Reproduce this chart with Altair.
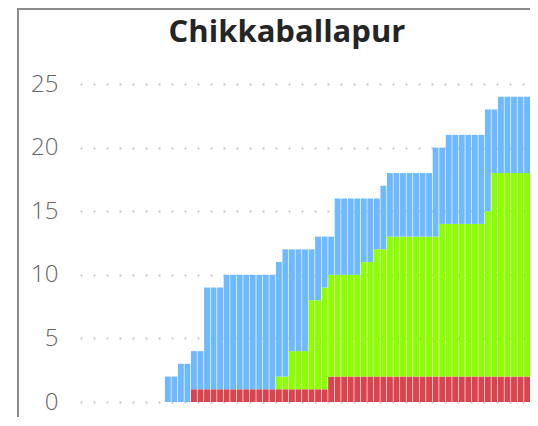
import altair as alt
import pandas as pd

# categories: one bar per day (the right-most bars of the source are cut off)
dates = [d.strftime("%Y-%m-%d") for d in pd.date_range("2020-03-09", periods=69)]

confirmed = [0] * 13 + [2, 2, 3, 3, 4, 4, 9, 9, 9] + [10] * 8 + \
    [11, 12, 12, 12, 12, 12, 13, 13, 13] + [16] * 7 + [17] + [18] * 7 + \
    [20, 20] + [21] * 6 + [23, 23] + [24] * 5
deaths = [0] * 17 + [1] * 21 + [2] * 31
recovered = [0] * 30 + [1, 1] + [3, 3, 3] + [7, 7] + [8] * 6 + [9, 9] + \
    [10, 10] + [11] * 8 + [12] * 7 + [13] + [16] * 6

series = ["Deaths", "Recovered", "Active"]
colors = ["#D9444F", "#8CFF00", "#6FB9FF"]
y_ticks = [0, 5, 10, 15, 20, 25]
title_text = "Chikkaballapur"

rows = []
for i, d in enumerate(dates):
    active = confirmed[i] - recovered[i] - deaths[i]
    for k, (name, val) in enumerate(zip(series, [deaths[i], recovered[i], active])):
        rows.append({"date": d, "status": name, "count": val, "rank": k})
df = pd.DataFrame(rows)

bars = alt.Chart(df).mark_bar().encode(
    x=alt.X("date:O", axis=None,
            scale=alt.Scale(paddingInner=0.1, paddingOuter=0)),
    y=alt.Y("count:Q", stack="zero",
            scale=alt.Scale(domain=[0, 25], nice=False),
            axis=alt.Axis(values=y_ticks, title=None, grid=True,
                          gridDash=[2, 11], gridColor="#c8c8c8", gridWidth=2,
                          domain=False, ticks=False, labelFontSize=24,
                          labelColor="#666666", labelPadding=22,
                          labelFont="Open Sans", labelFontWeight=300)),
    color=alt.Color("status:N", scale=alt.Scale(domain=series, range=colors),
                    legend=None),
    order=alt.Order("rank:Q"),
)

one = pd.DataFrame({"a": [0]})
left_border = alt.Chart(one).mark_rule(color="#8c8c8c", strokeWidth=2).encode(
    x=alt.value(-62), y=alt.value(-76), y2=alt.value(334))
top_border = alt.Chart(one).mark_rule(color="#8c8c8c", strokeWidth=2).encode(
    x=alt.value(-63), x2=alt.value(450), y=alt.value(-75))
title = alt.Chart(one).mark_text(
    text=title_text, fontSize=31, font="Open Sans", fontWeight="bold",
    color="#252525", align="center", baseline="alphabetic",
).encode(x=alt.value(207), y=alt.value(-42))

chart = alt.layer(bars, left_border, top_border, title).properties(
    width=450, height=318,
    padding={"left": 72, "top": 76, "right": 0, "bottom": 15},
    autosize=alt.AutoSizeParams(type="none"),
).configure_view(stroke=None)

chart.save("out.html", embed_options={"renderer": "svg", "actions": False})
